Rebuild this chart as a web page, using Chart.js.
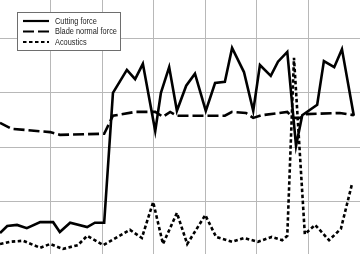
<!DOCTYPE html>
<html>
<head>
<meta charset="utf-8">
<title>Cutting force, blade normal force and acoustics</title>
<script src="https://cdn.jsdelivr.net/npm/chart.js@4/dist/chart.umd.min.js"></script>
<style>
    html, body { margin: 0; padding: 0; background: #ffffff; }
    #chartBox { position: relative; width: 360px; height: 254px; }
</style>
</head>
<body>
<div id="chartBox"><canvas id="forceChart"></canvas></div>
<script>
// Values (time on x, signal level on y)
var cuttingTime = [0.2, 1.6, 3.5, 5.4, 8.0, 10.5, 11.8, 13.8, 17.1, 18.6, 20.4, 22.1, 24.8, 26.4, 27.9,
    30.3, 31.4, 33.0, 34.5, 36.3, 38.0, 40.1, 41.9, 43.8, 45.2, 47.5, 49.3, 50.6, 52.7, 54.1, 55.9,
    57.6, 58.8, 61.7, 63.0, 65.0, 66.5, 68.8];
var cuttingForce = [4.3, 5.6, 5.8, 5.2, 6.3, 6.3, 4.5, 6.2, 5.4, 6.2, 6.2, 30.0, 34.2, 32.5, 35.3,
    23.0, 30.0, 34.7, 26.7, 31.3, 33.5, 26.7, 31.8, 32.0, 38.2, 33.8, 26.7, 35.1, 33.1, 35.7, 37.5,
    20.3, 25.9, 27.8, 35.8, 34.7, 38.0, 25.8];

var bladeTime = [0.2, 2.5, 9.9, 11.8, 20.4, 22.1, 26.4, 30.3, 31.8, 33.2, 34.5, 43.8, 45.2, 47.9,
    49.3, 51.0, 55.9, 57.0, 58.4, 59.5, 66.1, 68.8];
var bladeNormalForce = [24.5, 23.4, 22.8, 22.3, 22.5, 25.8, 26.5, 26.5, 25.6, 26.5, 25.8, 25.8,
    26.5, 26.3, 25.4, 25.9, 26.5, 25.4, 25.4, 26.1, 26.3, 25.9];

var acousticsTime = [0.2, 2.1, 4.7, 8.0, 9.9, 12.4, 15.3, 17.1, 20.2, 25.4, 27.7, 29.9, 31.8, 34.5,
    36.5, 40.0, 42.1, 45.2, 47.5, 50.2, 52.9, 54.9, 55.9, 57.2, 59.3, 61.3, 64.0, 66.3, 68.5];
var acoustics = [2.3, 2.7, 2.9, 1.6, 2.3, 1.4, 2.1, 3.8, 2.1, 4.9, 3.4, 10.0, 2.3, 8.0, 2.3, 7.6,
    3.6, 2.7, 3.4, 2.7, 3.6, 3.0, 3.8, 36.4, 4.1, 5.8, 3.0, 5.1, 13.5];

var seriesLabels = ['Cutting force', 'Blade normal force', 'Acoustics'];

function toPoints(xs, ys) {
    return xs.map(function(x, i) { return { x: x, y: ys[i] }; });
}

// Boxed legend in the top left corner of the plot, drawn over the grid
var boxedLegend = {
    id: 'boxedLegend',
    afterDraw: function(chart) {
        var ctx = chart.ctx;
        var left = 17, top = 12, width = 103, height = 38;
        ctx.save();
        ctx.fillStyle = '#ffffff';
        ctx.fillRect(left, top, width, height);
        ctx.strokeStyle = '#6e6e6e';
        ctx.lineWidth = 1;
        ctx.strokeRect(left + 0.5, top + 0.5, width, height);

        chart.data.datasets.forEach(function(ds, i) {
            var y = top + 9 + i * 10.5;
            ctx.beginPath();
            ctx.setLineDash(ds.borderDash || []);
            ctx.lineWidth = 2.2;
            ctx.strokeStyle = ds.borderColor;
            ctx.moveTo(23, y);
            ctx.lineTo(49, y);
            ctx.stroke();

            // narrow sans, like the original figure's label font
            ctx.save();
            ctx.translate(55, y);
            ctx.scale(0.82, 1);
            ctx.font = '9px "Liberation Sans", Arial, sans-serif';
            ctx.fillStyle = '#1e1e1e';
            ctx.textBaseline = 'middle';
            ctx.fillText(ds.label, 0, 0.5);
            ctx.restore();
        });
        ctx.restore();
    }
};

var ctxForce = document.getElementById('forceChart').getContext('2d');
var forceChart = new Chart(ctxForce, {
    type: 'line',
    data: {
        datasets: [{
            label: seriesLabels[0],
            data: toPoints(cuttingTime, cuttingForce),
            borderColor: '#000000',
            borderWidth: 2.6
        }, {
            label: seriesLabels[1],
            data: toPoints(bladeTime, bladeNormalForce),
            borderColor: '#000000',
            borderWidth: 2.6,
            borderDash: [11, 4]
        }, {
            label: seriesLabels[2],
            data: toPoints(acousticsTime, acoustics),
            borderColor: '#000000',
            borderWidth: 2.6,
            borderDash: [3.5, 2.5]
        }]
    },
    options: {
        responsive: true,
        maintainAspectRatio: false,
        animation: false,
        layout: { padding: 0 },
        elements: {
            line: { tension: 0, fill: false, borderJoinStyle: 'miter' },
            point: { radius: 0, hoverRadius: 0 }
        },
        plugins: {
            legend: { display: false },
            tooltip: { enabled: false }
        },
        scales: {
            x: {
                type: 'linear',
                min: 0.2,
                max: 70,
                border: { display: false },
                grid: { color: '#b8b8b8', lineWidth: 1, drawTicks: false },
                ticks: { display: false, stepSize: 10, includeBounds: false }
            },
            y: {
                min: 0.47,
                max: 47,
                border: { display: false },
                grid: { color: '#b8b8b8', lineWidth: 1, drawTicks: false },
                ticks: { display: false, stepSize: 10, includeBounds: false }
            }
        }
    },
    plugins: [boxedLegend]
});
</script>
</body>
</html>
